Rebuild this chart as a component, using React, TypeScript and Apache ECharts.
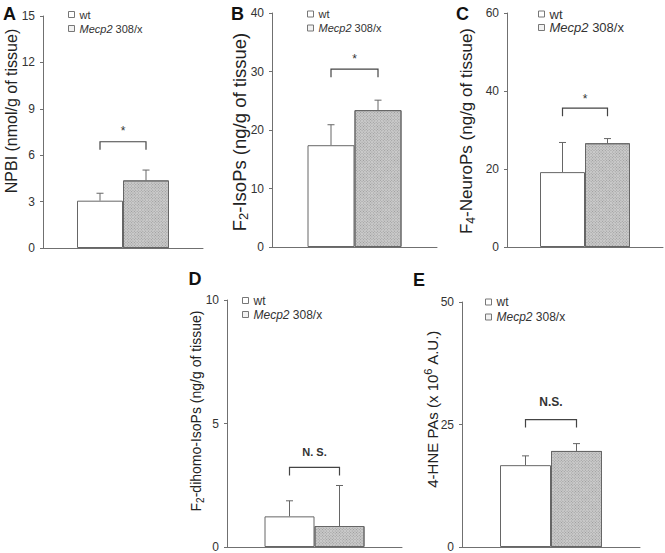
import React, { useEffect, useRef } from "react";
import * as echarts from "echarts";

// ---- data ----
const panelKeys = ["A", "B", "C", "D", "E"];
const yMaxes = [15, 40, 60, 10, 50];
const yIntervals = [3, 10, 20, 5, 25];
const seriesNames = ["wt", "Mecp2 308/x"];
const wtMeans = [3.06, 17.4, 19.2, 1.24, 16.7];
const wtSems = [0.48, 3.5, 7.6, 0.63, 1.9];
const mutMeans = [4.37, 23.4, 26.6, 0.85, 19.6];
const mutSems = [0.67, 1.7, 1.2, 1.64, 1.5];
const bracketLevels = [6.87, 30.4, 35.6, 3.22, 26.0];
const sigLabels = ["*", "*", "*", "N. S.", "N.S."];
const yTitles = [
  "{n|NPBI (nmol/g of tissue)}",
  "{n|F}{sub|2}{n|-IsoPs (ng/g of tissue)}",
  "{n|F}{sub|4}{n|-NeuroPs (ng/g of tissue)}",
  "{n|F}{sub|2}{n|-dihomo-IsoPs (ng/g of tissue)}",
  "{n|4-HNE PAs (x 10}{sup|6}{n| A.U.)}",
];

// ---- layout / style ----
const FONT = '"Liberation Sans", Arial, Helvetica, sans-serif';
const grids = [
  { left: 43, top: 16, width: 160, height: 232 },
  { left: 272, top: 13, width: 165, height: 234 },
  { left: 507, top: 13, width: 156, height: 234 },
  { left: 227, top: 300, width: 175, height: 247 },
  { left: 462, top: 302, width: 178, height: 246 },
];
const barWidths = [46, 47, 45, 50, 51];
const titlePos = [
  [11, 111, 16],
  [239, 132, 18.5],
  [466, 131, 17],
  [196, 411, 14],
  [432, 409, 15],
];
const labelPos = [
  [9.5, 13.5],
  [237.5, 13.5],
  [462.5, 14],
  [195, 279],
  [419, 280],
];
const legendPos = [
  [68, 14.5, 11, 14],
  [307, 14, 11, 14],
  [538, 14, 13, 13.5],
  [242, 300.5, 12, 14],
  [485, 302, 12, 15],
];
const sigOffsets = [11, 10, 9, 15, 18];
const sigFonts = [
  ["normal", 12],
  ["normal", 12],
  ["normal", 12],
  ["bold", 11],
  ["bold", 12],
];
const hatch = {
  symbol: "rect",
  symbolSize: 1,
  dashArrayX: [1, 1],
  dashArrayY: [1, 1],
  rotation: Math.PI / 4,
  color: "#9a9a9a",
  backgroundColor: "#e2e2e2",
};

export default function App() {
  const ref = useRef<HTMLDivElement>(null);

  useEffect(() => {
    if (!ref.current) return;
    const chart = echarts.init(ref.current, undefined, { renderer: "svg" });

    const xAxis: any[] = [];
    const yAxis: any[] = [];
    const series: any[] = [];
    const legend: any[] = [];
    const graphic: any[] = [];

    panelKeys.forEach((key, i) => {
      const bw = barWidths[i];
      xAxis.push({
        gridIndex: i,
        type: "category",
        data: [""],
        axisLine: { show: true, lineStyle: { color: "#707070", width: 1 } },
        axisTick: { show: false },
        axisLabel: { show: false },
      });
      yAxis.push({
        gridIndex: i,
        type: "value",
        min: 0,
        max: yMaxes[i],
        interval: yIntervals[i],
        axisLine: { show: true, lineStyle: { color: "#707070", width: 1 } },
        axisTick: { show: true, length: 3, lineStyle: { color: "#707070" } },
        splitLine: { show: false },
        axisLabel: {
          fontFamily: FONT,
          fontSize: 12,
          color: "#333",
          margin: 8,
        },
      });
      series.push({
        type: "bar",
        name: seriesNames[0],
        xAxisIndex: i,
        yAxisIndex: i,
        data: [wtMeans[i]],
        barWidth: bw,
        barGap: "0%",
        itemStyle: { color: "#ffffff", borderColor: "#666", borderWidth: 1 },
        z: 3,
      });
      series.push({
        type: "bar",
        name: seriesNames[1],
        xAxisIndex: i,
        yAxisIndex: i,
        data: [mutMeans[i]],
        barWidth: bw,
        barGap: "0%",
        itemStyle: { color: "#cbcbcb", borderColor: "#666", borderWidth: 1, decal: hatch },
        z: 3,
      });
      // error bars
      series.push({
        type: "custom",
        xAxisIndex: i,
        yAxisIndex: i,
        z: 2,
        silent: true,
        data: [
          [0, wtMeans[i], wtSems[i]],
          [0, mutMeans[i], mutSems[i]],
        ],
        renderItem: (params: any, api: any) => {
          const side = params.dataIndex === 0 ? -1 : 1;
          const base = api.coord([0, api.value(1)]);
          const top = api.coord([0, api.value(1) + api.value(2)]);
          const x = base[0] + (side * bw) / 2;
          const st = { stroke: "#666", lineWidth: 1 };
          return {
            type: "group",
            children: [
              { type: "line", shape: { x1: x, y1: base[1], x2: x, y2: top[1] }, style: st },
              { type: "line", shape: { x1: x - 3.5, y1: top[1], x2: x + 3.5, y2: top[1] }, style: st },
            ],
          };
        },
      });
      // significance bracket
      series.push({
        type: "custom",
        xAxisIndex: i,
        yAxisIndex: i,
        z: 4,
        silent: true,
        data: [[0, bracketLevels[i]]],
        renderItem: (params: any, api: any) => {
          const c = api.coord([0, api.value(1)]);
          const x1 = c[0] - bw / 2;
          const x2 = c[0] + bw / 2;
          const y = c[1];
          return {
            type: "group",
            children: [
              {
                type: "polyline",
                shape: { points: [[x1, y + 8], [x1, y], [x2, y], [x2, y + 8]] },
                style: { stroke: "#444", lineWidth: 1.2, fill: null },
              },
              {
                type: "text",
                x: c[0],
                y: y - sigOffsets[i],
                style: {
                  text: sigLabels[i],
                  align: "center",
                  verticalAlign: "middle",
                  font: `${sigFonts[i][0]} ${sigFonts[i][1]}px ${FONT}`,
                  fill: "#333",
                },
              },
            ],
          };
        },
      });

      const [lx, lc, lfs, pitch] = legendPos[i];
      legend.push({
        orient: "vertical",
        left: lx,
        top: lc - pitch / 2,
        padding: 0,
        itemGap: 0,
        itemWidth: 6,
        itemHeight: 6,
        icon: "rect",
        selectedMode: false,
        data: [
          { name: seriesNames[0], itemStyle: { color: "#fff", borderColor: "#777", borderWidth: 1, decal: "none" } },
          { name: seriesNames[1], itemStyle: { color: "#f2f2f2", borderColor: "#777", borderWidth: 1, decal: "none" } },
        ],
        formatter: (name: string) =>
          name === seriesNames[1] ? "{i|Mecp2} 308/x" : name,
        textStyle: {
          fontFamily: FONT,
          fontSize: lfs,
          lineHeight: pitch,
          color: "#333",
          rich: {
            i: { fontStyle: "italic", fontFamily: FONT, fontSize: lfs, lineHeight: pitch, color: "#333" },
          },
        },
      });

      const [tx, ty, tfs] = titlePos[i];
      graphic.push({
        type: "text",
        x: tx,
        y: ty,
        rotation: Math.PI / 2,
        style: {
          text: yTitles[i],
          align: "center",
          verticalAlign: "middle",
          fill: "#222",
          rich: {
            n: { fontFamily: FONT, fontSize: tfs, lineHeight: tfs + 4, fill: "#222" },
            sub: {
              fontFamily: FONT,
              fontSize: Math.round(tfs * 0.7),
              lineHeight: Math.round(tfs * 0.7),
              verticalAlign: "bottom",
              fill: "#222",
            },
            sup: {
              fontFamily: FONT,
              fontSize: Math.round(tfs * 0.7),
              lineHeight: Math.round(tfs * 0.7),
              verticalAlign: "top",
              fill: "#222",
            },
          },
        },
      });

      graphic.push({
        type: "text",
        x: labelPos[i][0],
        y: labelPos[i][1],
        style: {
          text: key,
          align: "center",
          verticalAlign: "middle",
          font: `bold 18px ${FONT}`,
          fill: "#111",
        },
      });
    });

    chart.setOption({
      animation: false,
      backgroundColor: "#ffffff",
      grid: grids.map((g) => ({ ...g, containLabel: false })),
      xAxis,
      yAxis,
      series,
      legend,
      graphic,
    });

    return () => chart.dispose();
  }, []);

  return (
    <div
      ref={ref}
      style={{ position: "fixed", left: 0, top: 0, width: 665, height: 553 }}
    />
  );
}
